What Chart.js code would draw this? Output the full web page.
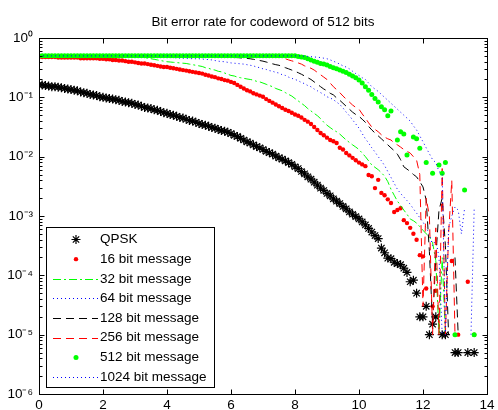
<!DOCTYPE html>
<html>
<head>
<meta charset="utf-8">
<title>Bit error rate for codeword of 512 bits</title>
<script src="https://cdn.jsdelivr.net/npm/chart.js@4.4.1/dist/chart.umd.min.js"></script>
<style>
    html, body { margin: 0; padding: 0; background: #fff; }
</style>
</head>
<body>
<canvas id="ber-chart" width="498" height="410"></canvas>
<script>
// Eb/N0 grid (dB), one reading every 0.1 dB
const snrDb = [
    0,0.1,0.2,0.3,0.4,0.5,0.6,0.7,0.8,0.9,
    1,1.1,1.2,1.3,1.4,1.5,1.6,1.7,1.8,1.9,
    2,2.1,2.2,2.3,2.4,2.5,2.6,2.7,2.8,2.9,
    3,3.1,3.2,3.3,3.4,3.5,3.6,3.7,3.8,3.9,
    4,4.1,4.2,4.3,4.4,4.5,4.6,4.7,4.8,4.9,
    5,5.1,5.2,5.3,5.4,5.5,5.6,5.7,5.8,5.9,
    6,6.1,6.2,6.3,6.4,6.5,6.6,6.7,6.8,6.9,
    7,7.1,7.2,7.3,7.4,7.5,7.6,7.7,7.8,7.9,
    8,8.1,8.2,8.3,8.4,8.5,8.6,8.7,8.8,8.9,
    9,9.1,9.2,9.3,9.4,9.5,9.6,9.7,9.8,9.9,
    10,10.1,10.2,10.3,10.4,10.5,10.6,10.7,10.8,10.9,
    11,11.1,11.2,11.3,11.4,11.5,11.6,11.7,11.8,11.9,
    12,12.1,12.2,12.3,12.4,12.5,12.6,12.7,12.8,12.9,
    13,13.1,13.2,13.3,13.4,13.5,13.6,13.7
];

const berQpsk = [
    0.162,0.162,0.158,0.155,0.151,0.151,0.148,0.145,0.141,0.138,
    0.135,0.132,0.129,0.123,0.120,0.117,0.112,0.110,0.107,0.102,
    0.100,0.0977,0.0955,0.0933,0.0912,0.0891,0.0851,0.0832,0.0813,0.0794,
    0.0759,0.0741,0.0708,0.0676,0.0661,0.0646,0.0617,0.0603,0.0575,0.0550,
    0.0537,0.0513,0.0501,0.0479,0.0457,0.0447,0.0427,0.0407,0.0398,0.0380,
    0.0363,0.0347,0.0339,0.0324,0.0309,0.0302,0.0288,0.0275,0.0269,0.0257,
    0.0245,0.0229,0.0219,0.0204,0.0191,0.0178,0.0170,0.0158,0.0148,0.0141,
    0.0132,0.0123,0.0117,0.0110,0.0102,0.00955,0.00912,0.00851,0.00794,0.00741,
    0.00676,0.00631,0.00562,0.00513,0.00457,0.00417,0.00372,0.00331,0.00295,0.00269,
    0.00240,0.00219,0.00195,0.00178,0.00162,0.00145,0.00132,0.00117,0.00107,0.000977,
    8.91e-4,7.94e-4,7.08e-4,6.17e-4,5.37e-4,4.68e-4,4.17e-4,2.88e-4,2.40e-4,1.95e-4,
    1.91e-4,1.66e-4,1.58e-4,1.51e-4,1.32e-4,1.12e-4,7.8e-5,8.3e-5,5.0e-5,2.0e-5,
    2.0e-5,3.0e-5,1.0e-5,1.5e-5,2.0e-5,null,1.0e-5,1.0e-5,null,null,
    5e-6,5e-6,null,null,5e-6,null,5e-6,null
];

const ber16 = [
    0.479,0.479,0.479,0.479,0.479,0.479,0.468,0.468,0.468,0.468,
    0.468,0.468,0.468,0.457,0.457,0.457,0.457,0.457,0.457,0.447,
    0.447,0.437,0.437,0.427,0.427,0.417,0.417,0.407,0.398,0.398,
    0.389,0.380,0.372,0.372,0.363,0.355,0.347,0.339,0.331,0.324,
    0.324,0.316,0.309,0.302,0.295,0.288,0.282,0.275,0.269,0.263,
    0.257,0.251,0.240,0.234,0.224,0.219,0.209,0.204,0.195,0.191,
    0.182,0.174,0.162,0.151,0.141,0.132,0.126,0.117,0.112,0.107,
    0.102,0.0933,0.0871,0.0813,0.0759,0.0708,0.0661,0.0617,0.0589,0.0550,
    0.0513,0.0490,0.0457,0.0417,0.0389,0.0355,0.0316,0.0282,0.0251,0.0229,
    0.0209,0.0191,0.0182,0.0170,0.0141,0.0132,0.0115,0.0105,0.00955,0.00871,
    0.00794,0.00741,0.00692,0.00490,0.00468,0.00295,0.00407,0.00245,0.00224,0.00191,
    0.00166,0.00117,0.00126,0.00135,8.51e-4,7.59e-4,6.31e-4,5.01e-4,3.98e-4,2.19e-4,
    2.09e-4,6.0e-5,null,3.0e-5,5.5e-5,null,null,null,null,1.74e-4,
    null,1e-5,null,null,7.8e-5,null,1e-5,null
];

const ber32 = [
    0.5,0.5,0.5,0.5,0.5,0.5,0.5,0.5,0.5,0.5,
    0.5,0.5,0.5,0.5,0.5,0.5,0.5,0.5,0.5,0.5,
    0.5,0.5,0.5,0.5,0.5,0.5,0.5,0.5,0.5,0.5,
    0.490,0.485,0.479,0.468,0.457,0.447,0.437,0.427,0.417,0.407,
    0.398,0.394,0.389,0.385,0.380,0.376,0.372,0.363,0.355,0.347,
    0.339,0.331,0.316,0.309,0.295,0.288,0.275,0.269,0.257,0.245,
    0.234,0.229,0.219,0.214,0.209,0.204,0.200,0.195,0.186,0.182,
    0.174,0.166,0.158,0.151,0.141,0.135,0.129,0.120,0.112,0.105,
    0.0955,0.0871,0.0794,0.0724,0.0646,0.0589,0.0537,0.0490,0.0437,0.0380,
    0.0339,0.0309,0.0282,0.0263,0.0240,0.0214,0.0191,0.0174,0.0158,0.0145,
    0.0132,0.0115,0.0100,0.00851,0.00724,0.00661,0.00603,0.00537,0.00468,0.00380,
    0.00282,0.00224,0.00178,0.00151,0.00126,0.00107,8.91e-4,8.32e-4,7.59e-4,6.61e-4,
    5.75e-4,5.01e-4,4.47e-4,3.55e-4,1.78e-4,1e-5,2.0e-4,1e-5,null,null,
    null,null,null,null,null,null,null,null
];

const ber64 = [
    0.5,0.5,0.5,0.5,0.5,0.5,0.5,0.5,0.5,0.5,
    0.5,0.5,0.5,0.5,0.5,0.5,0.5,0.5,0.5,0.5,
    0.5,0.5,0.5,0.5,0.5,0.5,0.5,0.5,0.5,0.5,
    0.495,0.490,0.490,0.490,0.490,0.485,0.479,0.479,0.479,0.474,
    0.468,0.468,0.468,0.462,0.457,0.457,0.457,0.452,0.447,0.447,
    0.447,0.442,0.437,0.432,0.427,0.417,0.407,0.402,0.398,0.389,
    0.380,0.376,0.372,0.367,0.363,0.355,0.347,0.339,0.324,0.316,
    0.302,0.295,0.282,0.275,0.263,0.257,0.240,0.234,0.219,0.209,
    0.200,0.191,0.178,0.170,0.158,0.151,0.138,0.129,0.120,0.112,
    0.102,0.0977,0.0912,0.0832,0.0759,0.0661,0.0562,0.0490,0.0417,0.0355,
    0.0302,0.0245,0.0200,0.0170,0.0141,0.0120,0.0100,0.00851,0.00708,0.00562,
    0.00447,0.00355,0.00282,0.00240,0.00209,0.00182,0.00158,0.00132,0.00112,9.33e-4,
    7.94e-4,6.31e-4,5.01e-4,3.16e-4,3.98e-4,2.0e-4,1e-5,null,null,null,
    null,null,null,null,null,null,null,null
];

const ber128 = [
    0.5,0.5,0.5,0.5,0.5,0.5,0.5,0.5,0.5,0.5,
    0.5,0.5,0.5,0.5,0.5,0.5,0.5,0.5,0.5,0.5,
    0.5,0.5,0.5,0.5,0.5,0.5,0.5,0.5,0.5,0.5,
    0.5,0.5,0.5,0.5,0.5,0.5,0.5,0.5,0.5,0.5,
    0.5,0.5,0.5,0.5,0.5,0.5,0.5,0.5,0.5,0.5,
    0.5,0.495,0.490,0.490,0.490,0.485,0.479,0.479,0.479,0.474,
    0.468,0.468,0.468,0.462,0.457,0.452,0.447,0.437,0.427,0.417,
    0.407,0.394,0.380,0.367,0.355,0.347,0.331,0.316,0.302,0.288,
    0.275,0.260,0.245,0.229,0.214,0.200,0.182,0.166,0.151,0.138,
    0.129,0.117,0.110,0.0977,0.0891,0.0794,0.0708,0.0631,0.0562,0.0513,
    0.0479,0.0427,0.0380,0.0324,0.0282,0.0251,0.0224,0.0200,0.0178,0.0158,
    0.0141,0.0126,0.0110,0.00891,0.00676,0.00617,0.00562,0.00501,0.00457,0.00380,
    0.00309,0.00186,2.51e-4,1.5e-5,2.0e-4,0.00126,0.00200,3.16e-4,1e-5,null,
    2.0e-4,1e-5,null,null,null,null,null,null
];

const ber256 = [
    0.5,0.5,0.5,0.5,0.5,0.5,0.5,0.5,0.5,0.5,
    0.5,0.5,0.5,0.5,0.5,0.5,0.5,0.5,0.5,0.5,
    0.5,0.5,0.5,0.5,0.5,0.5,0.5,0.5,0.5,0.5,
    0.5,0.5,0.5,0.5,0.5,0.5,0.5,0.5,0.5,0.5,
    0.5,0.5,0.5,0.5,0.5,0.5,0.5,0.5,0.5,0.5,
    0.5,0.5,0.5,0.5,0.5,0.5,0.5,0.5,0.5,0.5,
    0.5,0.5,0.5,0.5,0.5,0.5,0.5,0.5,0.5,0.5,
    0.5,0.495,0.490,0.485,0.479,0.474,0.468,0.447,0.427,0.412,
    0.398,0.380,0.363,0.339,0.324,0.309,0.288,0.263,0.240,0.219,
    0.200,0.174,0.151,0.135,0.120,0.105,0.0933,0.0832,0.0741,0.0676,
    0.0631,0.0525,0.0447,0.0372,0.0316,0.0288,0.0263,0.0234,0.0214,0.0200,
    0.0191,0.0170,0.0158,0.0145,0.0132,0.0123,0.0115,0.0100,0.00871,0.00501,
    3.0e-5,0.00200,0.00100,1e-5,6.31e-4,1e-5,0.00631,1e-5,5.01e-4,0.00398,
    1e-5,1e-5,null,null,null,null,null,null
];

const ber512 = [
    0.5,0.5,0.5,0.5,0.5,0.5,0.5,0.5,0.5,0.5,
    0.5,0.5,0.5,0.5,0.5,0.5,0.5,0.5,0.5,0.5,
    0.5,0.5,0.5,0.5,0.5,0.5,0.5,0.5,0.5,0.5,
    0.5,0.5,0.5,0.5,0.5,0.5,0.5,0.5,0.5,0.5,
    0.5,0.5,0.5,0.5,0.5,0.5,0.5,0.5,0.5,0.5,
    0.5,0.5,0.5,0.5,0.5,0.5,0.5,0.5,0.5,0.5,
    0.5,0.5,0.5,0.5,0.5,0.5,0.5,0.5,0.5,0.5,
    0.5,0.5,0.5,0.5,0.5,0.5,0.5,0.5,0.5,0.5,
    0.5,0.490,0.479,0.468,0.447,0.427,0.407,0.389,0.372,0.363,
    0.351,0.331,0.316,0.302,0.288,0.275,0.263,0.245,0.229,0.214,
    0.195,0.174,0.151,0.132,0.112,0.0955,0.0832,0.0692,0.0617,0.0490,
    0.0589,null,0.0191,0.0263,0.0240,0.0107,null,0.0214,0.0200,0.0138,
    null,0.00794,null,0.00525,null,0.00724,0.00525,0.00794,null,null,
    1e-5,null,null,0.00275,null,null,1e-5,null
];

const ber1024 = [
    0.5,0.5,0.5,0.5,0.5,0.5,0.5,0.5,0.5,0.5,
    0.5,0.5,0.5,0.5,0.5,0.5,0.5,0.5,0.5,0.5,
    0.5,0.5,0.5,0.5,0.5,0.5,0.5,0.5,0.5,0.5,
    0.5,0.5,0.5,0.5,0.5,0.5,0.5,0.5,0.5,0.5,
    0.5,0.5,0.5,0.5,0.5,0.5,0.5,0.5,0.5,0.5,
    0.5,0.5,0.5,0.5,0.5,0.5,0.5,0.5,0.5,0.5,
    0.5,0.5,0.5,0.5,0.5,0.5,0.5,0.5,0.5,0.5,
    0.5,0.5,0.5,0.5,0.5,0.5,0.5,0.5,0.5,0.5,
    0.5,0.5,0.5,0.495,0.490,0.485,0.479,0.474,0.468,0.457,
    0.447,0.427,0.407,0.385,0.363,0.339,0.324,0.302,0.275,0.251,
    0.234,0.214,0.200,0.174,0.151,0.138,0.126,0.112,0.100,0.0891,
    0.0794,0.0708,0.0631,0.0562,0.0501,0.0447,0.0398,0.0331,0.0282,0.0224,
    0.0178,0.0141,0.0112,0.00891,0.00794,0.00562,0.00501,1e-5,6.31e-4,0.00100,
    0.00141,0.00126,5.01e-4,0.00135,null,1e-5,0.00135,null
];

const seriesNames = ['QPSK', '16 bit message', '32 bit message', '64 bit message',
    '128 bit message', '256 bit message', '512 bit message', '1024 bit message'];

const xTicks = [0, 2, 4, 6, 8, 10, 12, 14];
const yTickValues = [1e-6, 1e-5, 1e-4, 1e-3, 1e-2, 1e-1, 1];
const yTickLabels = ['10⁻⁶', '10⁻⁵', '10⁻⁴', '10⁻³', '10⁻²', '10⁻¹', '10⁰'];
const minorSteps = [2, 3, 4, 5, 6, 7, 8, 9];

const FONT = '"Liberation Sans", Arial, Helvetica, sans-serif';

function toPoints(values) {
    return snrDb.map((x, i) => ({ x: x, y: values[i] }));
}

// markers only
function markerSet(name, values, style, radius, color) {
    return {
        label: name,
        data: toPoints(values),
        showLine: false,
        pointStyle: style,
        pointRadius: radius,
        pointHoverRadius: radius,
        pointBorderWidth: style === 'star' ? 1.2 : 0,
        borderColor: color,
        backgroundColor: color,
        borderWidth: style === 'star' ? 1.2 : 0
    };
}

// lines only
function lineSet(name, values, color, dash) {
    return {
        label: name,
        data: toPoints(values),
        borderColor: color,
        backgroundColor: color,
        borderWidth: 1,
        borderDash: dash,
        pointRadius: 0,
        pointHoverRadius: 0,
        tension: 0,
        fill: false
    };
}

var datasets = [
    markerSet(seriesNames[0], berQpsk, 'star', 4.5, '#000000'),
    markerSet(seriesNames[1], ber16, 'circle', 2.2, '#ff0000'),
    lineSet(seriesNames[2], ber32, '#00ff00', [8, 3, 2, 3]),
    lineSet(seriesNames[3], ber64, '#0000ff', [1, 3]),
    lineSet(seriesNames[4], ber128, '#000000', [8, 5]),
    lineSet(seriesNames[5], ber256, '#ff0000', [8, 5]),
    markerSet(seriesNames[6], ber512, 'circle', 2.5, '#00ff00'),
    lineSet(seriesNames[7], ber1024, '#0000ff', [1, 3])
];
// later series are drawn on top, like in MATLAB
datasets.forEach((ds, i) => { ds.order = datasets.length - i; });

function crisp(v) {
    return Math.round(v) + 0.5;
}

// axes box with inward ticks, and the boxed legend in the lower left
const matlabAxes = {
    id: 'matlabAxes',
    afterDatasetsDraw(chart) {
        const ctx = chart.ctx;
        const area = chart.chartArea;
        const xs = chart.scales.x;
        const ys = chart.scales.y;
        const L = crisp(area.left), R = crisp(area.right);
        const T = crisp(area.top), B = crisp(area.bottom);

        ctx.save();
        ctx.strokeStyle = '#000';
        ctx.lineWidth = 1;
        ctx.setLineDash([]);
        ctx.strokeRect(L, T, R - L, B - T);

        ctx.beginPath();
        xTicks.forEach(v => {
            const px = crisp(xs.getPixelForValue(v));
            ctx.moveTo(px, B); ctx.lineTo(px, B - 5);
            ctx.moveTo(px, T); ctx.lineTo(px, T + 5);
        });
        yTickValues.forEach(v => {
            const py = crisp(ys.getPixelForValue(v));
            ctx.moveTo(L, py); ctx.lineTo(L + 5, py);
            ctx.moveTo(R, py); ctx.lineTo(R - 5, py);
            if (v < 1) {
                minorSteps.forEach(m => {
                    const pm = crisp(ys.getPixelForValue(m * v));
                    ctx.moveTo(L, pm); ctx.lineTo(L + 3, pm);
                    ctx.moveTo(R, pm); ctx.lineTo(R - 3, pm);
                });
            }
        });
        ctx.stroke();
        ctx.restore();
    },
    afterDraw(chart) {
        const ctx = chart.ctx;
        const box = { x: 46.5, y: 227.5, w: 168, h: 160 };
        ctx.save();
        ctx.fillStyle = '#fff';
        ctx.fillRect(box.x, box.y, box.w, box.h);
        ctx.strokeStyle = '#000';
        ctx.lineWidth = 1;
        ctx.strokeRect(box.x, box.y, box.w, box.h);

        ctx.font = '13.5px ' + FONT;
        ctx.textBaseline = 'middle';
        ctx.textAlign = 'left';

        chart.data.datasets.forEach((ds, i) => {
            const y = 239.5 + i * 19.65;
            const yl = crisp(y);
            ctx.setLineDash([]);
            if (ds.showLine === false) {
                if (ds.pointStyle === 'star') {
                    const r = ds.pointRadius;
                    const d = r * Math.SQRT1_2;
                    ctx.strokeStyle = ds.borderColor;
                    ctx.lineWidth = ds.borderWidth;
                    ctx.beginPath();
                    ctx.moveTo(76 - r, y); ctx.lineTo(76 + r, y);
                    ctx.moveTo(76, y - r); ctx.lineTo(76, y + r);
                    ctx.moveTo(76 - d, y - d); ctx.lineTo(76 + d, y + d);
                    ctx.moveTo(76 - d, y + d); ctx.lineTo(76 + d, y - d);
                    ctx.stroke();
                } else {
                    ctx.fillStyle = ds.backgroundColor;
                    ctx.beginPath();
                    ctx.arc(76, y, ds.pointRadius, 0, Math.PI * 2);
                    ctx.fill();
                }
            } else {
                ctx.strokeStyle = ds.borderColor;
                ctx.lineWidth = 1;
                ctx.setLineDash(ds.borderDash || []);
                ctx.beginPath();
                ctx.moveTo(53, yl);
                ctx.lineTo(98, yl);
                ctx.stroke();
            }
            ctx.fillStyle = '#000';
            ctx.fillText(ds.label, 100, y);
        });
        ctx.restore();
    }
};

document.addEventListener("DOMContentLoaded", function () {
    var ctx = document.getElementById('ber-chart').getContext('2d');

    new Chart(ctx, {
        type: 'line',
        data: { datasets: datasets },
        options: {
            responsive: false,
            maintainAspectRatio: false,
            animation: false,
            devicePixelRatio: 1,
            events: [],
            layout: { padding: { left: 0, right: 6, top: 0, bottom: 0 } },
            plugins: {
                legend: { display: false },
                tooltip: { enabled: false },
                title: {
                    display: true,
                    text: 'Bit error rate for codeword of 512 bits',
                    fullSize: false,
                    color: '#000',
                    font: { family: FONT, size: 13.5, weight: 'normal' },
                    padding: { top: 14, bottom: 7.8 }
                }
            },
            scales: {
                x: {
                    type: 'linear',
                    min: 0,
                    max: 14,
                    grid: { display: false, drawTicks: false },
                    border: { display: false },
                    ticks: {
                        stepSize: 2,
                        autoSkip: false,
                        maxRotation: 0,
                        padding: 3.5,
                        color: '#000',
                        font: { family: FONT, size: 13.5 }
                    },
                    afterFit: function (scale) { scale.height = 16; }
                },
                y: {
                    type: 'logarithmic',
                    min: 1e-6,
                    max: 1,
                    grid: { display: false, drawTicks: false },
                    border: { display: false },
                    afterBuildTicks: function (scale) {
                        scale.ticks = yTickValues.map(v => ({ value: v }));
                    },
                    ticks: {
                        autoSkip: false,
                        padding: 6,
                        color: '#000',
                        font: { family: FONT, size: 13.5 },
                        callback: function (value, index) { return yTickLabels[index]; }
                    },
                    afterFit: function (scale) { scale.width = 39; }
                }
            }
        },
        plugins: [matlabAxes]
    });
});
</script>
</body>
</html>
